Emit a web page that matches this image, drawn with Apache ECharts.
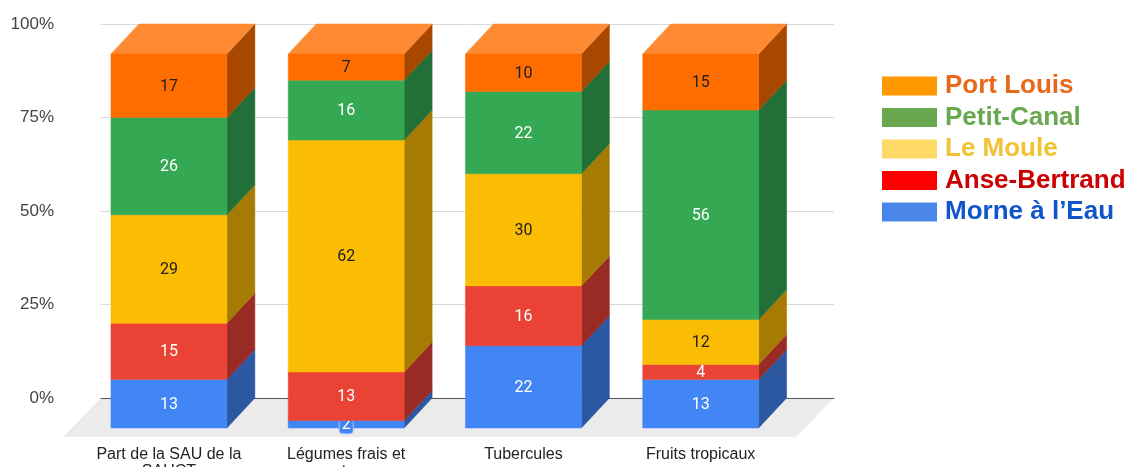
<!DOCTYPE html>
<html>
<head>
<meta charset="utf-8">
<script src="https://cdn.jsdelivr.net/npm/echarts@6/dist/echarts.min.js"></script>
<style>
  html, body { margin: 0; padding: 0; background: #fff; }
  #chart { width: 1131px; height: 467px; }
</style>
</head>
<body>
<div id="chart"></div>
<script>
// données
const categories = ['Part de la SAU de la\nSAUCT', 'Légumes frais et\nautres', 'Tubercules', 'Fruits tropicaux'];
const seriesNames = ['Morne à l\u2019Eau', 'Anse-Bertrand', 'Le Moule', 'Petit-Canal', 'Port Louis'];
const morneAlEau = [13, 2, 22, 13];
const anseBertrand = [15, 13, 16, 4];
const leMoule = [29, 62, 30, 12];
const petitCanal = [26, 16, 22, 56];
const portLouis = [17, 7, 10, 15];
const yTicks = [0, 25, 50, 75, 100];

const values = [morneAlEau, anseBertrand, leMoule, petitCanal, portLouis];

// couleurs (face avant, côté, dessus, texte)
const frontColors = ['#4285F4', '#EA4335', '#FBBC04', '#34A853', '#FF6D01'];
const sideColors = ['#2C57A1', '#9A2B24', '#A57B03', '#226F37', '#A84700'];
const topColors = ['#6A9EF6', '#EF6B60', '#FCCB3A', '#5CB976', '#FF8A34'];
const labelColors = ['#ffffff', '#ffffff', '#212121', '#ffffff', '#212121'];
const legendIcon = ['#4A86E8', '#FF0000', '#FFD966', '#6AA84F', '#FF9900'];
const legendText = ['#1155CC', '#CC0000', '#F1C232', '#6AA84F', '#E8691C'];

const DX = 28, DY = 30;      // profondeur des barres
const FX = 38, FY = 39;      // profondeur du sol
const BAR_RATIO = 0.654;

const chart = echarts.init(document.getElementById('chart'));

function makeRender(k) {
    return function (params, api) {
        const i = api.value(0), lo = api.value(1), hi = api.value(2), v = api.value(3);
        const pLo = api.coord([i, lo]);
        const pHi = api.coord([i, hi]);
        const bw = api.size([1, 0])[0] * BAR_RATIO;
        const fx0 = pLo[0] - bw / 2 - DX, fx1 = fx0 + bw;
        const fyLo = pLo[1] + DY, fyHi = pHi[1] + DY;
        const children = [];
        // côté
        children.push({
            type: 'polygon',
            shape: { points: [[fx1, fyLo], [fx1, fyHi], [fx1 + DX, fyHi - DY], [fx1 + DX, fyLo - DY]] },
            style: { fill: sideColors[k], stroke: sideColors[k], lineWidth: 0.5 }
        });
        // dessus (seulement le haut de la pile)
        if (k === values.length - 1) {
            children.push({
                type: 'polygon',
                shape: { points: [[fx0, fyHi], [fx1, fyHi], [fx1 + DX, fyHi - DY], [fx0 + DX, fyHi - DY]] },
                style: { fill: topColors[k], stroke: topColors[k], lineWidth: 0.5 }
            });
        }
        // face avant
        children.push({
            type: 'rect',
            shape: { x: fx0, y: fyHi, width: bw, height: fyLo - fyHi },
            style: { fill: frontColors[k], stroke: frontColors[k], lineWidth: 0.5 }
        });
        const small = (fyLo - fyHi) < 12;
        children.push({
            type: 'text',
            style: {
                text: String(v),
                x: (fx0 + fx1) / 2,
                y: (fyLo + fyHi) / 2 + 1,
                align: 'center',
                verticalAlign: 'middle',
                fill: labelColors[k],
                font: '16px Roboto',
                backgroundColor: small ? frontColors[k] : null,
                borderColor: small ? '#a9c6fa' : null,
                borderWidth: small ? 1 : 0,
                borderRadius: 3,
                padding: small ? [0, 2] : 0
            }
        });
        return { type: 'group', children: children };
    };
}

function renderFloor(params, api) {
    const cs = params.coordSys;
    const y0 = api.coord([0, 0])[1];
    const x0 = cs.x, x1 = cs.x + cs.width;
    return {
        type: 'polygon',
        shape: { points: [[x0, y0], [x1, y0], [x1 - FX, y0 + FY], [x0 - FX, y0 + FY]] },
        style: { fill: '#EBEBEB' }
    };
}

const barSeries = seriesNames.map(function (name, k) {
    const data = categories.map(function (c, i) {
        let lo = 0;
        for (let j = 0; j < k; j++) lo += values[j][i];
        return [i, lo, lo + values[k][i], values[k][i]];
    });
    return {
        name: name,
        type: 'custom',
        xAxisIndex: 1,
        yAxisIndex: 1,
        z: 4,
        itemStyle: { color: frontColors[k] },
        renderItem: makeRender(k),
        encode: { x: 0, y: [1, 2] },
        data: data
    };
});

const option = {
    animation: false,
    grid: [
        { left: 101, right: 297, top: 24, bottom: 69, outerBoundsMode: 'none' },
        { left: 108.3, right: 313.7, top: 24, bottom: 69, outerBoundsMode: 'none' }
    ],
    legend: {
        orient: 'vertical',
        left: 877,
        top: 68,
        itemWidth: 55,
        itemHeight: 19,
        itemGap: 5.5,
        icon: 'rect',
        selectedMode: false,
        textStyle: {
            fontSize: 26,
            lineHeight: 26,
            fontWeight: 'bold',
            fontFamily: 'Liberation Sans',
            padding: [0, 0, 0, 3]
        },
        data: seriesNames.slice().reverse().map(function (name) {
            const k = seriesNames.indexOf(name);
            return {
                name: name,
                itemStyle: { color: legendIcon[k] },
                textStyle: { color: legendText[k] }
            };
        })
    },
    xAxis: [
        {
            type: 'category',
            gridIndex: 0,
            data: categories,
            axisLine: { show: true, lineStyle: { color: '#555', width: 1 } },
            axisTick: { show: false },
            axisLabel: { show: false },
            z: 3
        },
        {
            type: 'category',
            gridIndex: 1,
            data: categories,
            axisLine: { show: false },
            axisTick: { show: false },
            axisLabel: {
                interval: 0,
                margin: 48,
                color: '#222',
                fontSize: 16,
                fontFamily: 'Liberation Sans',
                lineHeight: 17,
                padding: [0, 2 * DX, 0, 0]
            }
        }
    ],
    yAxis: [
        {
            type: 'value',
            gridIndex: 0,
            min: yTicks[0],
            max: yTicks[yTicks.length - 1],
            interval: 25,
            axisLine: { show: false },
            axisTick: { show: false },
            splitLine: { lineStyle: { color: '#d9d9d9', width: 1 } },
            axisLabel: {
                margin: 47,
                color: '#444',
                fontSize: 17,
                fontFamily: 'Liberation Sans',
                formatter: '{value}%'
            }
        },
        {
            type: 'value',
            gridIndex: 1,
            min: yTicks[0],
            max: yTicks[yTicks.length - 1],
            show: false
        }
    ],
    series: [
        {
            type: 'custom',
            xAxisIndex: 0,
            yAxisIndex: 0,
            z: 2,
            silent: true,
            renderItem: renderFloor,
            data: [[0, 0]]
        }
    ].concat(barSeries)
};

chart.setOption(option);
window.addEventListener('resize', function () {
    chart.resize();
});
</script>
</body>
</html>
